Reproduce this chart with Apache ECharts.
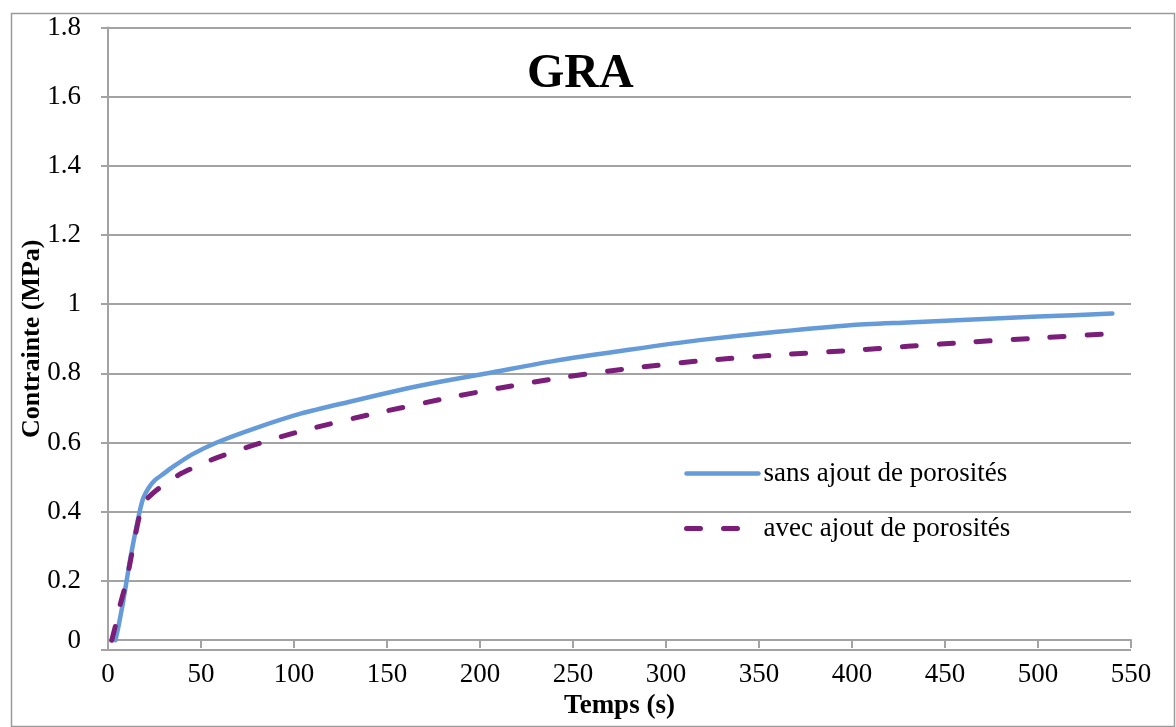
<!DOCTYPE html>
<html>
<head>
<meta charset="utf-8">
<script src="https://cdn.jsdelivr.net/npm/echarts@6/dist/echarts.min.js"></script>
<style>
html,body{margin:0;padding:0;background:#fff;}
#main{width:1176px;height:727px;}
</style>
</head>
<body>
<div id="main"></div>
<script>
// GRA : contrainte en fonction du temps
var chartTitle = 'GRA';
var seriesNames = ['sans ajout de porosités', 'avec ajout de porosités'];
var yTicks = [0, 0.2, 0.4, 0.6, 0.8, 1, 1.2, 1.4, 1.6, 1.8];
var xTicks = [0, 50, 100, 150, 200, 250, 300, 350, 400, 450, 500, 550];

// [temps (s), contrainte (MPa)]
var sansPorosites = [
    [4, 0.028], [5.5, 0.065], [8, 0.135], [10, 0.2], [12, 0.265], [14.5, 0.335],
    [17, 0.4], [19, 0.44], [22, 0.47], [25, 0.49], [30, 0.51], [35, 0.53],
    [45, 0.565], [58.5, 0.6], [79, 0.641], [104, 0.684], [130, 0.718], [157, 0.752],
    [180, 0.777], [204, 0.8], [240, 0.836], [280, 0.868], [318, 0.896], [360, 0.92],
    [399, 0.939], [430, 0.947], [465, 0.956], [500, 0.964], [540, 0.973]
];
var avecPorosites = [
    [2, 0.028], [4, 0.07], [6, 0.12], [8, 0.16], [10, 0.2], [12.5, 0.27],
    [15, 0.34], [17, 0.39], [19, 0.425], [21.5, 0.44], [26, 0.462], [32, 0.485],
    [39.5, 0.511], [50, 0.537], [59, 0.557], [77, 0.59], [97, 0.623], [112, 0.644],
    [140, 0.68], [182, 0.728], [210, 0.757], [243, 0.787], [280, 0.814], [318, 0.836],
    [360, 0.853], [399, 0.866], [430, 0.878], [465, 0.891], [500, 0.902], [540, 0.915]
];

var serifFont = '"Liberation Serif", "DejaVu Serif", serif';
var gridColor = '#a3a3a3';
var blueColor = '#659bd9';
var purpleColor = '#7a1e79';
var purpleDash = [14, 23];
var myChart = echarts.init(document.getElementById('main'));

var option = {
    backgroundColor: '#fff',
    animation: false,
    title: {
        text: chartTitle,
        left: 522,
        top: 46,
        textStyle: {fontFamily: serifFont, fontWeight: 'bold', fontSize: 48, color: '#000'}
    },
    graphic: [{
        type: 'rect',
        left: 9, top: 11,
        shape: {width: 1163, height: 713},
        style: {fill: 'none', stroke: '#9a9a9a', lineWidth: 1.5},
        silent: true
    }],
    legend: {
        orient: 'vertical',
        left: 679,
        top: 455,
        itemWidth: 72,
        itemHeight: 10,
        itemGap: 28,
        itemStyle: {opacity: 0},
        data: [{
            name: seriesNames[0],
            lineStyle: {color: blueColor, width: 4.5, type: 'solid', cap: 'round'}
        }, {
            name: seriesNames[1],
            lineStyle: {color: purpleColor, width: 5, type: purpleDash, cap: 'round'}
        }],
        textStyle: {fontFamily: serifFont, fontSize: 27, color: '#000'}
    },
    grid: {left: 108, right: 45, top: 27.5, bottom: 77, containLabel: false},
    xAxis: {
        type: 'value',
        min: xTicks[0],
        max: xTicks[xTicks.length - 1],
        interval: 50,
        offset: -10,
        name: 'Temps (s)',
        nameLocation: 'middle',
        nameGap: 53,
        nameMoveOverlap: false,
        nameTextStyle: {fontFamily: serifFont, fontWeight: 'bold', fontSize: 27, color: '#000'},
        axisLine: {onZero: false, lineStyle: {color: gridColor, width: 2}},
        axisTick: {show: true, length: 8, lineStyle: {color: gridColor, width: 2}},
        axisLabel: {margin: 21, fontFamily: serifFont, fontSize: 27, color: '#000'},
        splitLine: {show: false}
    },
    yAxis: {
        type: 'value',
        min: yTicks[0],
        max: yTicks[yTicks.length - 1],
        interval: 0.2,
        name: 'Contrainte (MPa)',
        nameLocation: 'middle',
        nameGap: 63,
        nameMoveOverlap: false,
        nameTextStyle: {fontFamily: serifFont, fontWeight: 'bold', fontSize: 26, color: '#000'},
        axisLine: {show: true, lineStyle: {color: gridColor, width: 2}},
        axisTick: {show: true, length: 7, lineStyle: {color: gridColor, width: 2}},
        axisLabel: {
            margin: 27,
            fontFamily: serifFont,
            fontSize: 27,
            color: '#000',
            formatter: function (v) {
                return v === 0 ? '{z|0}' : String(Math.round(v * 10) / 10);
            },
            rich: {z: {fontFamily: serifFont, fontSize: 27, color: '#000', padding: [0, 0, 18, 0]}}
        },
        splitLine: {show: true, lineStyle: {color: gridColor, width: 2}}
    },
    series: [{
        name: seriesNames[0],
        type: 'line',
        data: sansPorosites,
        smooth: 0.2,
        showSymbol: false,
        symbol: 'none',
        itemStyle: {color: blueColor},
        lineStyle: {color: blueColor, width: 4.5, cap: 'round'},
        z: 3
    }, {
        name: seriesNames[1],
        type: 'line',
        data: avecPorosites,
        smooth: 0.2,
        showSymbol: false,
        symbol: 'none',
        itemStyle: {color: purpleColor},
        lineStyle: {color: purpleColor, width: 5, type: purpleDash, cap: 'round'},
        z: 4
    }]
};
myChart.setOption(option);
</script>
</body>
</html>
